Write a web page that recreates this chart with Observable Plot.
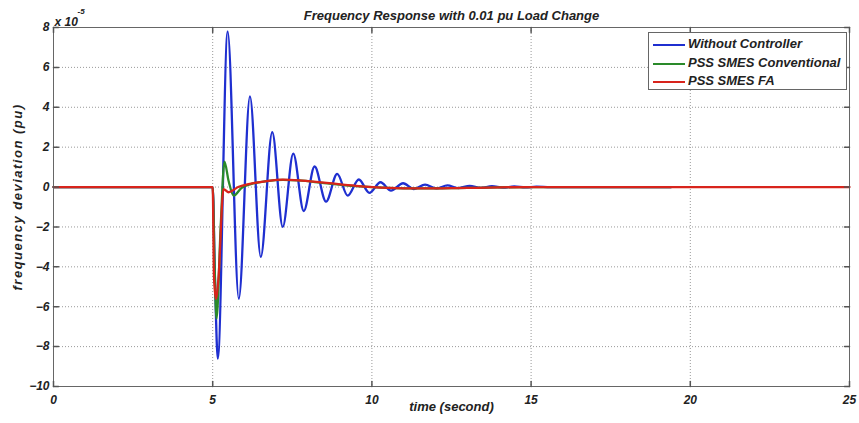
<!DOCTYPE html>
<html><head><meta charset="utf-8">
<script src="https://cdn.jsdelivr.net/npm/d3@7"></script>
<script src="https://cdn.jsdelivr.net/npm/@observablehq/plot@0.6"></script>
<style>
body{margin:0;background:#fff;}
#wrap{position:relative;width:859px;height:423px;font-family:"Liberation Sans",Arial,sans-serif;}
#legend{position:absolute;left:648px;top:32px;width:199px;height:58px;border:1px solid #666;background:#fff;box-sizing:border-box;font-style:italic;font-weight:bold;font-size:13px;color:#222;}
#legend .row{position:absolute;left:0;height:18px;line-height:18px;white-space:nowrap;}
#legend .sw{position:absolute;left:4px;top:9px;width:32px;height:0;border-top:2px solid;}
#legend .lb{position:absolute;left:39px;top:0;}
</style></head>
<body><div id="wrap"></div>
<script>
const titleText = "Frequency Response with 0.01 pu Load Change";
const xLabel = "time (second)";
const yLabel = "frequency deviation (pu)";
const xTicks = [0, 5, 10, 15, 20, 25];
const yTicks = [-10, -8, -6, -4, -2, 0, 2, 4, 6, 8];
const seriesNames = ["Without Controller", "PSS SMES Conventional", "PSS SMES FA"];
const seriesColors = ["#1f2fd0", "#2a8a2a", "#d8241c"];

// Without Controller (values ×1e-5)
const tWithout = [0, 5.0, 5.07, 5.16, 5.47, 5.82, 6.17, 6.51, 6.87, 7.2, 7.53, 7.86, 8.2, 8.56, 8.91, 9.24, 9.59, 9.92, 10.27, 10.6, 10.98, 11.32, 11.67, 12.02, 12.37, 12.72, 13.07, 13.42, 13.77, 14.12, 14.47, 14.82, 15.17, 15.6, 19.4];
const vWithout = [0, 0, -4.5, -8.6, 7.8, -5.6, 4.55, -3.5, 2.75, -2.0, 1.68, -1.2, 1.03, -0.73, 0.66, -0.43, 0.38, -0.29, 0.24, -0.18, 0.19, -0.1, 0.12, -0.07, 0.08, -0.05, 0.06, -0.04, 0.04, -0.03, 0.03, -0.02, 0.02, 0, 0];
// PSS SMES Conventional
const tConv = [0, 5.0, 5.06, 5.12, 5.25, 5.37, 5.5, 5.66, 5.9, 6.2, 6.7, 7.2, 7.7, 8.5, 9.5, 10.5, 11.5, 13, 15, 19.4];
const vConv = [0, 0, -4.0, -6.6, -2.0, 1.28, 0.3, -0.43, -0.05, 0.15, 0.3, 0.36, 0.33, 0.2, 0.05, -0.04, -0.07, -0.04, 0, 0];
// PSS SMES FA
const tFA = [0, 5.0, 5.04, 5.1, 5.18, 5.34, 5.5, 5.8, 6.2, 6.7, 7.2, 7.7, 8.5, 9.5, 10.5, 11.5, 13, 15, 25];
const vFA = [0, 0, -4.5, -5.6, -4.6, -0.1, -0.26, 0.0, 0.17, 0.3, 0.37, 0.34, 0.22, 0.06, -0.04, -0.07, -0.04, 0, 0];

const series = [[tWithout, vWithout], [tConv, vConv], [tFA, vFA]].map(([t, v], i) =>
  t.map((x, j) => ({t: x, v: v[j], s: seriesNames[i]})));

const tickShape = {draw(ctx, l) { ctx.moveTo(0, 0); ctx.lineTo(0, -l); }};
const tickStroke = "#555";

const plot = Plot.plot({
  width: 859, height: 423,
  marginLeft: 53, marginRight: 10, marginTop: 27, marginBottom: 37,
  style: {fontFamily: "Liberation Sans, Arial, sans-serif", fontSize: "12px", fontStyle: "italic", color: "#222", background: "#fff"},
  x: {domain: [0, 25], ticks: xTicks, tickFormat: d => String(d), label: null},
  y: {domain: [-10, 8], ticks: yTicks, tickFormat: d => String(d), label: null},
  marks: [
    Plot.gridX(xTicks, {stroke: "#999", strokeOpacity: 1, strokeDasharray: "1,2"}),
    Plot.gridY(yTicks, {stroke: "#999", strokeOpacity: 1, strokeDasharray: "1,2"}),
    ...series.map((d, i) => Plot.line(d, {x: "t", y: "v", stroke: seriesColors[i], strokeWidth: 2.3, curve: "monotone-x"})),
    Plot.frame({stroke: "#666"}),
    Plot.axisX(xTicks, {tickSize: 0, tickPadding: 9, fontWeight: "bold", label: null}),
    Plot.axisY(yTicks, {tickSize: 0, tickPadding: 4, fontWeight: "bold", label: null}),
    Plot.vector(xTicks, {x: d => d, frameAnchor: "bottom", length: 5, anchor: "start", shape: tickShape, stroke: tickStroke}),
    Plot.vector(xTicks, {x: d => d, frameAnchor: "top", length: 5, anchor: "start", rotate: 180, shape: tickShape, stroke: tickStroke}),
    Plot.vector(yTicks, {y: d => d, frameAnchor: "left", length: 5, anchor: "start", rotate: 90, shape: tickShape, stroke: tickStroke}),
    Plot.vector(yTicks, {y: d => d, frameAnchor: "right", length: 5, anchor: "start", rotate: -90, shape: tickShape, stroke: tickStroke}),
    Plot.text([titleText], {frameAnchor: "top", dy: -17, text: d => d, fontWeight: "bold", fontSize: 13}),
    Plot.text([xLabel], {frameAnchor: "bottom", dy: 24, text: d => d, fontWeight: "bold", fontSize: 13}),
    Plot.text([yLabel], {frameAnchor: "left", textAnchor: "middle", dx: -36, dy: -10, rotate: -90, text: d => d, fontWeight: "bold", fontSize: 13, className: "ylab"}),
    Plot.text(["x 10"], {frameAnchor: "top-left", dx: 1, dy: -10, textAnchor: "start", text: d => d, fontWeight: "bold", fontSize: 12}),
    Plot.text(["-5"], {frameAnchor: "top-left", dx: 24, dy: -19, textAnchor: "start", text: d => d, fontWeight: "bold", fontSize: 8})
  ]
});
d3.select(plot).selectAll("g.ylab text").style("letter-spacing", "1.5px");
const wrap = document.getElementById("wrap");
wrap.appendChild(plot);

const legend = document.createElement("div");
legend.id = "legend";
seriesNames.forEach((name, i) => {
  const row = document.createElement("div");
  row.className = "row";
  row.style.top = (2 + i * 18.5) + "px";
  row.style.width = "100%";
  const sw = document.createElement("div");
  sw.className = "sw";
  sw.style.borderTopColor = seriesColors[i];
  const lb = document.createElement("span");
  lb.className = "lb";
  lb.textContent = name;
  row.appendChild(sw); row.appendChild(lb);
  legend.appendChild(row);
});
wrap.appendChild(legend);
</script>
</body></html>
